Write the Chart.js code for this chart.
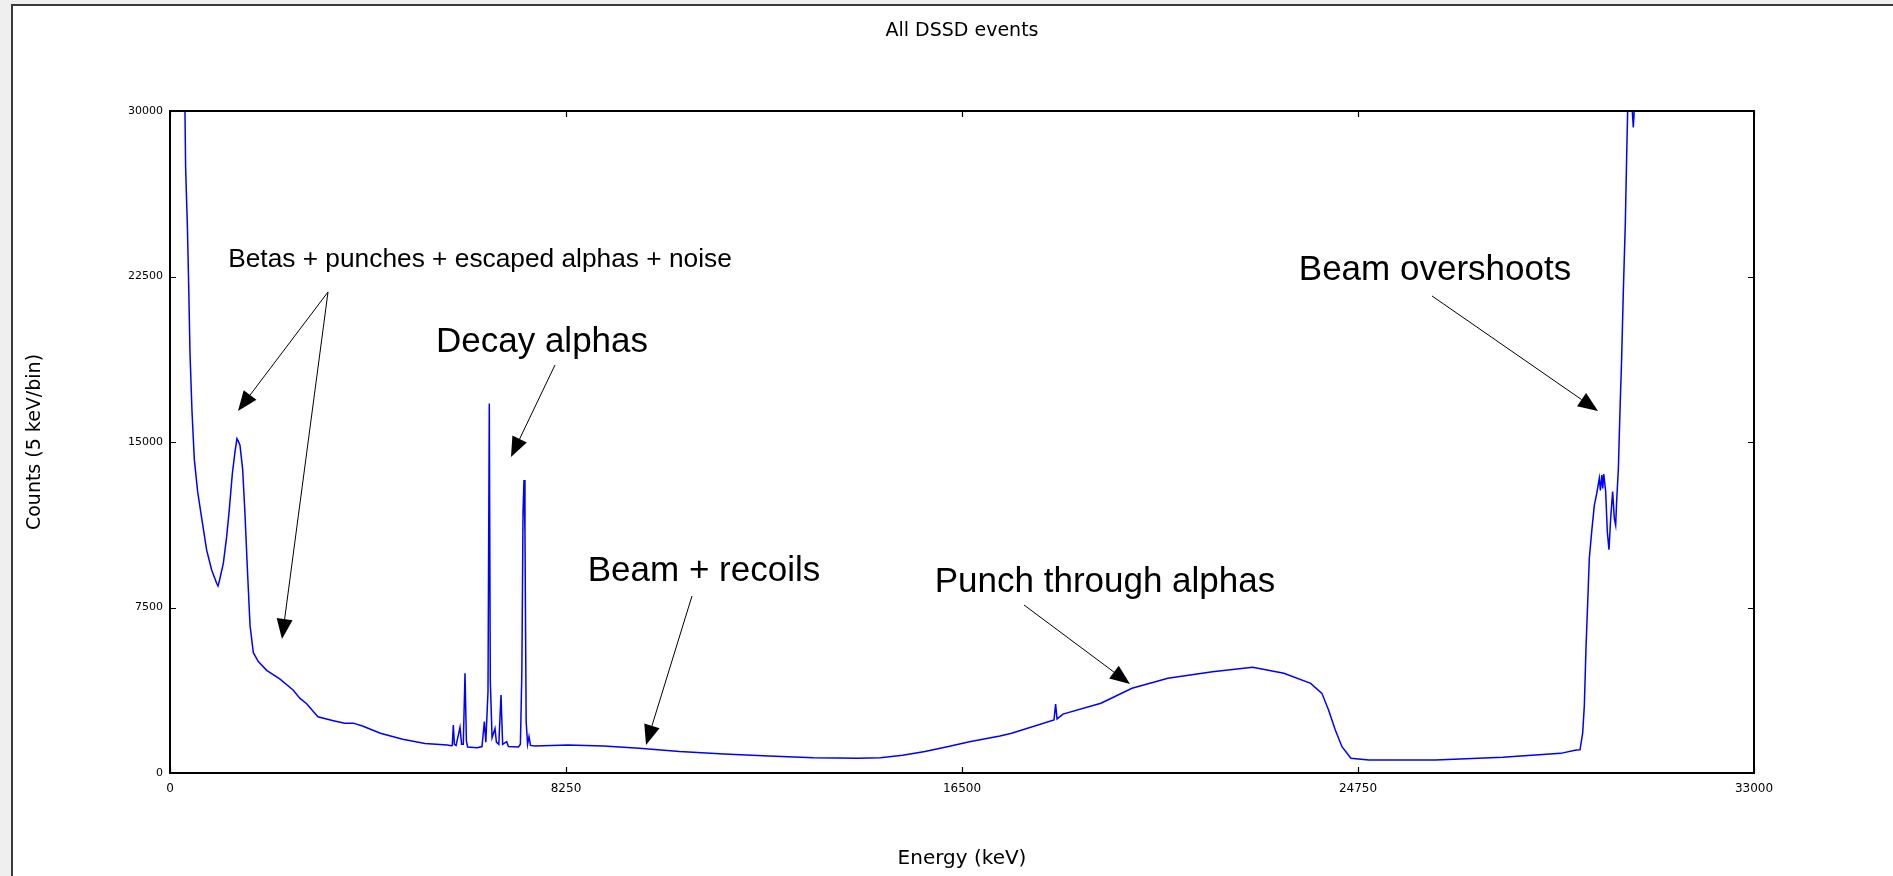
<!DOCTYPE html>
<html>
<head>
<meta charset="utf-8">
<title>All DSSD events</title>
<script src="https://cdn.jsdelivr.net/npm/chart.js@4"></script>
<style>
  html, body { margin: 0; padding: 0; background: #efefef; overflow: hidden; }
  #panel { position: absolute; left: 11px; top: 4px; right: 0; bottom: 0; background: #fff;
           border-left: 2px solid #3a3a3a; border-top: 2px solid #3a3a3a; }
  #spectrum { position: absolute; left: 0; top: 0; }
</style>
</head>
<body>
<div id="panel"></div>
<canvas id="spectrum" width="1893" height="876"></canvas>
<script>
// Spectrum (energy in keV, counts per 5 keV bin)
const energyKeV = [
  280, 312, 325, 345, 361, 389, 417, 458, 507, 576, 660, 764, 868, 972, 1000, 1028,
  1111, 1180, 1236, 1298, 1354, 1395, 1420, 1458, 1514, 1562, 1611, 1667, 1736, 1840,
  2014, 2292, 2569, 2708, 2847, 3081, 3403, 3638, 3819, 4010, 4383, 4848, 5312, 5777,
  5860, 5880, 5903, 5925, 5960, 6042, 6075, 6110, 6146, 6175, 6200, 6400, 6500, 6549,
  6580, 6625, 6652, 6673, 6710, 6740, 6771, 6800, 6850, 6896, 6930, 7014, 7050, 7260,
  7300, 7330, 7355, 7375, 7395, 7420, 7450, 7479, 7510, 7600, 8290, 9033, 9777, 10615,
  11544, 12474, 13404, 14333, 14800, 15265, 15729, 16194, 16658, 17291, 17533, 18417,
  18450, 18480, 18604, 19394, 20042, 20789, 21719, 22556, 23206, 23764, 23998, 24137,
  24277, 24416, 24602, 24974, 26368, 27765, 28972, 29297, 29375, 29431, 29465, 29500,
  29535, 29569, 29618, 29674, 29722, 29778, 29800, 29830, 29850, 29870, 29910, 29944,
  29979, 30014, 30055, 30090, 30118, 30139, 30174, 30208, 30243, 30278, 30319, 30347,
  30368, 30420, 30486, 30540
];
const countsPerBin = [
  32000, 30000, 27500, 26000, 24900, 22100, 19000, 16400, 14200, 12750, 11550, 10100, 9200, 8600, 8480, 8700,
  9500, 10700, 11950, 13550, 14550, 15150, 15050, 14850, 13750, 11750, 9300, 6700, 5450, 5050,
  4650, 4250, 3750, 3380, 3140, 2550, 2370, 2250, 2260, 2130, 1800, 1525, 1340, 1270,
  1240, 1250, 2175, 1300, 1250, 2070, 1300, 1300, 4520, 1450, 1180, 1150, 1200, 2330,
  1400, 3690, 16750, 4140, 1600, 1800, 2020, 1400, 1300, 3530, 1300, 1420, 1200, 1180,
  1300, 4520, 11830, 13280, 10940, 2330, 1300, 1650, 1250, 1220, 1270, 1220, 1120, 970,
  860, 770, 695, 665, 690, 800, 970, 1190, 1420, 1680, 1800, 2400,
  3120, 2450, 2670, 3160, 3840, 4290, 4590, 4790, 4520, 4060, 3610, 2860,
  1950, 1190, 665, 590, 590, 710, 890, 1040, 1050, 1820, 3040, 5670,
  7690, 9720, 10930, 12140, 12650, 13360, 12800, 13500, 12900, 13550, 12750, 10930,
  10120, 11540, 12750, 11540, 11230, 12350, 13760, 16390, 18820, 21860, 24900, 27930,
  30000, 31500, 29250, 31500
];

const xTicks = [0, 8250, 16500, 24750, 33000];
const yTicks = [0, 7500, 15000, 22500, 30000];

const chartTitle = 'All DSSD events';
const xTitle = 'Energy (keV)';
const yTitle = 'Counts (5 keV/bin)';

// Annotation texts and arrows, placed in data coordinates
const notes = [
  { text: 'Betas + punches + escaped alphas + noise', x: 6458, y: 23250, size: 26.3 },
  { text: 'Decay alphas', x: 7750, y: 19500, size: 35 },
  { text: 'Beam + recoils', x: 11125, y: 9150, size: 35 },
  { text: 'Punch through alphas', x: 19479, y: 8650, size: 35 },
  { text: 'Beam overshoots', x: 26354, y: 22800, size: 35 }
];
const arrows = [
  { from: [3292, 21799], to: [1417, 16406] },
  { from: [3292, 21799], to: [2333, 6073] },
  { from: [8021, 18491], to: [7104, 14321] },
  { from: [10875, 8022], to: [9917, 1269] },
  { from: [17792, 7614], to: [20000, 4033] },
  { from: [26292, 21618], to: [29750, 16406] }
];

function drawArrow(ctx, x0, y0, x1, y1) {
  const ang = Math.atan2(y1 - y0, x1 - x0);
  const len = 20, half = 8;
  const bx = x1 - len * Math.cos(ang), by = y1 - len * Math.sin(ang);
  ctx.beginPath();
  ctx.moveTo(x0, y0);
  ctx.lineTo(bx, by);
  ctx.stroke();
  ctx.beginPath();
  ctx.moveTo(x1, y1);
  ctx.lineTo(bx + half * Math.sin(ang), by - half * Math.cos(ang));
  ctx.lineTo(bx - half * Math.sin(ang), by + half * Math.cos(ang));
  ctx.closePath();
  ctx.fill();
}

const decorations = {
  id: 'decorations',
  afterDraw(chart) {
    const { ctx, chartArea: a } = chart;
    const x = chart.scales.x, y = chart.scales.y;
    ctx.save();
    ctx.strokeStyle = '#000';
    ctx.fillStyle = '#000';

    // plot frame
    ctx.lineWidth = 2;
    ctx.strokeRect(a.left, a.top, a.right - a.left, a.bottom - a.top);

    // ticks pointing inwards on all sides
    ctx.lineWidth = 1.2;
    ctx.beginPath();
    xTicks.forEach(v => {
      const px = Math.round(x.getPixelForValue(v)) + 0.5;
      ctx.moveTo(px, a.bottom); ctx.lineTo(px, a.bottom - 6);
      ctx.moveTo(px, a.top); ctx.lineTo(px, a.top + 6);
    });
    yTicks.forEach(v => {
      const py = Math.round(y.getPixelForValue(v)) + 0.5;
      ctx.moveTo(a.left, py); ctx.lineTo(a.left + 6, py);
      ctx.moveTo(a.right, py); ctx.lineTo(a.right - 6, py);
    });
    ctx.stroke();

    // title
    ctx.textAlign = 'center';
    ctx.textBaseline = 'middle';
    ctx.font = '19px "DejaVu Sans"';
    ctx.fillText(chartTitle, (a.left + a.right) / 2, 31);

    // annotations
    notes.forEach(n => {
      ctx.font = n.size + 'px "Liberation Sans", Arial, sans-serif';
      ctx.fillText(n.text, x.getPixelForValue(n.x), y.getPixelForValue(n.y));
    });
    ctx.lineWidth = 1;
    arrows.forEach(ar => {
      drawArrow(ctx,
        x.getPixelForValue(ar.from[0]), y.getPixelForValue(ar.from[1]),
        x.getPixelForValue(ar.to[0]), y.getPixelForValue(ar.to[1]));
    });
    ctx.restore();
  }
};

const ctx = document.getElementById('spectrum').getContext('2d');
new Chart(ctx, {
  type: 'scatter',
  data: {
    datasets: [{
      data: energyKeV.map((e, i) => ({ x: e, y: countsPerBin[i] })),
      showLine: true,
      borderColor: '#0000ff',
      borderWidth: 1.5,
      pointRadius: 0,
      tension: 0,
      clip: 0
    }]
  },
  options: {
    responsive: false,
    animation: false,
    layout: { padding: { left: 0, right: 139, top: 111, bottom: 0 } },
    plugins: { legend: { display: false }, tooltip: { enabled: false } },
    scales: {
      x: {
        type: 'linear',
        min: 0,
        max: 33000,
        afterBuildTicks: s => { s.ticks = xTicks.map(v => ({ value: v })); },
        afterFit: s => { s.height = 103; },
        grid: { display: false, drawTicks: false },
        border: { display: false },
        ticks: { color: '#000', padding: 9, maxRotation: 0, font: { family: 'DejaVu Sans', size: 12 },
                 callback: v => String(v) },
        title: { display: true, text: xTitle, color: '#000', font: { family: 'DejaVu Sans', size: 20 },
                 padding: { top: 0, bottom: 5 } }
      },
      y: {
        type: 'linear',
        min: 0,
        max: 30000,
        afterBuildTicks: s => { s.ticks = yTicks.map(v => ({ value: v })); },
        afterFit: s => { s.width = 170; },
        grid: { display: false, drawTicks: false },
        border: { display: false },
        ticks: { color: '#000', padding: 7, font: { family: 'DejaVu Sans', size: 11 },
                 callback: v => String(v) },
        title: { display: true, text: yTitle, color: '#000', font: { family: 'DejaVu Sans', size: 19 },
                 padding: { top: 24, bottom: 0 } }
      }
    }
  },
  plugins: [decorations]
});
</script>
</body>
</html>
